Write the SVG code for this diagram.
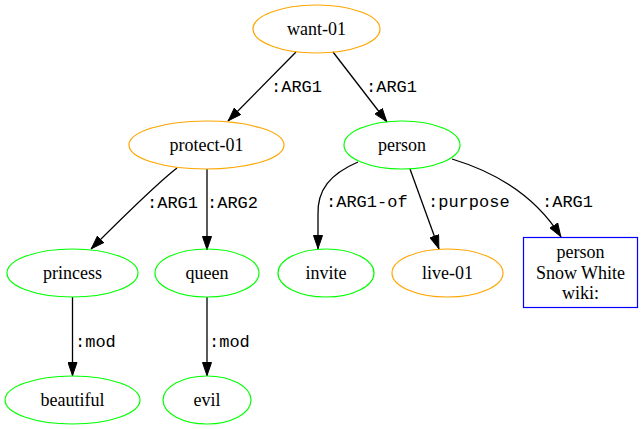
<svg xmlns="http://www.w3.org/2000/svg" width="643" height="429" viewBox="0 0 643 429">
<style>
.n{fill:none;stroke-width:1.2}
.o{stroke:#ffa500}
.g{stroke:#00ff00}
.b{stroke:#0000ff}
.t{font-family:'Liberation Serif','Times New Roman','DejaVu Serif',serif;font-size:18px;fill:#000;text-anchor:middle}
.e{fill:none;stroke:#000;stroke-width:1.3;marker-end:url(#arr)}
.l{font-family:'Liberation Mono','Courier New','DejaVu Sans Mono',monospace;font-size:17px;fill:#000}
</style>
<defs>
<marker id="arr" viewBox="0 0 14 10" refX="14" refY="5" markerWidth="14" markerHeight="10" markerUnits="userSpaceOnUse" orient="auto">
<path d="M0.5,0.5 L13.5,5 L0.5,9.5 z" fill="#000" stroke="#000" stroke-width="1"/>
</marker>
</defs>
<g id="connectors">
<path class="e" d="M296,52 L228,121"/>
<text class="l" x="271" y="92">:ARG1</text>
<path class="e" d="M333,52 L387,122"/>
<text class="l" x="366" y="92">:ARG1</text>
<path class="e" d="M177,168 C155,185 115,225 91,249"/>
<text class="l" x="147" y="208">:ARG1</text>
<path class="e" d="M207,169 L207,250"/>
<text class="l" x="207" y="208">:ARG2</text>
<path class="e" d="M72.5,297 L72.5,376"/>
<text class="l" x="75" y="347">:mod</text>
<path class="e" d="M207,297 L207,376"/>
<text class="l" x="209" y="347">:mod</text>
<path class="e" d="M358,162 C330,174 317,190 318,215 L318,249"/>
<text class="l" x="326" y="207">:ARG1-of</text>
<path class="e" d="M410,169 L439,249"/>
<text class="l" x="428" y="207">:purpose</text>
<path class="e" d="M452,159 C495,172 535,195 561,237"/>
<text class="l" x="542" y="207">:ARG1</text>
</g>
<g id="want-01">
<ellipse class="n o" cx="316.5" cy="29" rx="63.5" ry="24"/>
<text class="t" x="316.5" y="35">want-01</text>
</g>
<g id="protect-01">
<ellipse class="n o" cx="206.5" cy="145" rx="77.5" ry="24"/>
<text class="t" x="206.5" y="151">protect-01</text>
</g>
<g id="person">
<ellipse class="n g" cx="402" cy="145" rx="58" ry="24"/>
<text class="t" x="402" y="151">person</text>
</g>
<g id="princess">
<ellipse class="n g" cx="72.5" cy="273" rx="65.5" ry="24"/>
<text class="t" x="72.5" y="279">princess</text>
</g>
<g id="queen">
<ellipse class="n g" cx="207" cy="273" rx="52" ry="24"/>
<text class="t" x="207" y="279">queen</text>
</g>
<g id="invite">
<ellipse class="n g" cx="326" cy="273" rx="48" ry="24"/>
<text class="t" x="326" y="279">invite</text>
</g>
<g id="live-01">
<ellipse class="n o" cx="447.5" cy="273" rx="55.5" ry="24"/>
<text class="t" x="447.5" y="279">live-01</text>
</g>
<g id="person-snow-white">
<rect class="n b" x="523.5" y="237.5" width="114" height="70"/>
<text class="t" x="580.5" y="258">person</text>
<text class="t" x="580.5" y="279">Snow White</text>
<text class="t" x="580.5" y="299">wiki:</text>
</g>
<g id="beautiful">
<ellipse class="n g" cx="72.5" cy="400" rx="67.5" ry="24"/>
<text class="t" x="72.5" y="406">beautiful</text>
</g>
<g id="evil">
<ellipse class="n g" cx="207" cy="400" rx="44" ry="24"/>
<text class="t" x="207" y="406">evil</text>
</g>
</svg>
